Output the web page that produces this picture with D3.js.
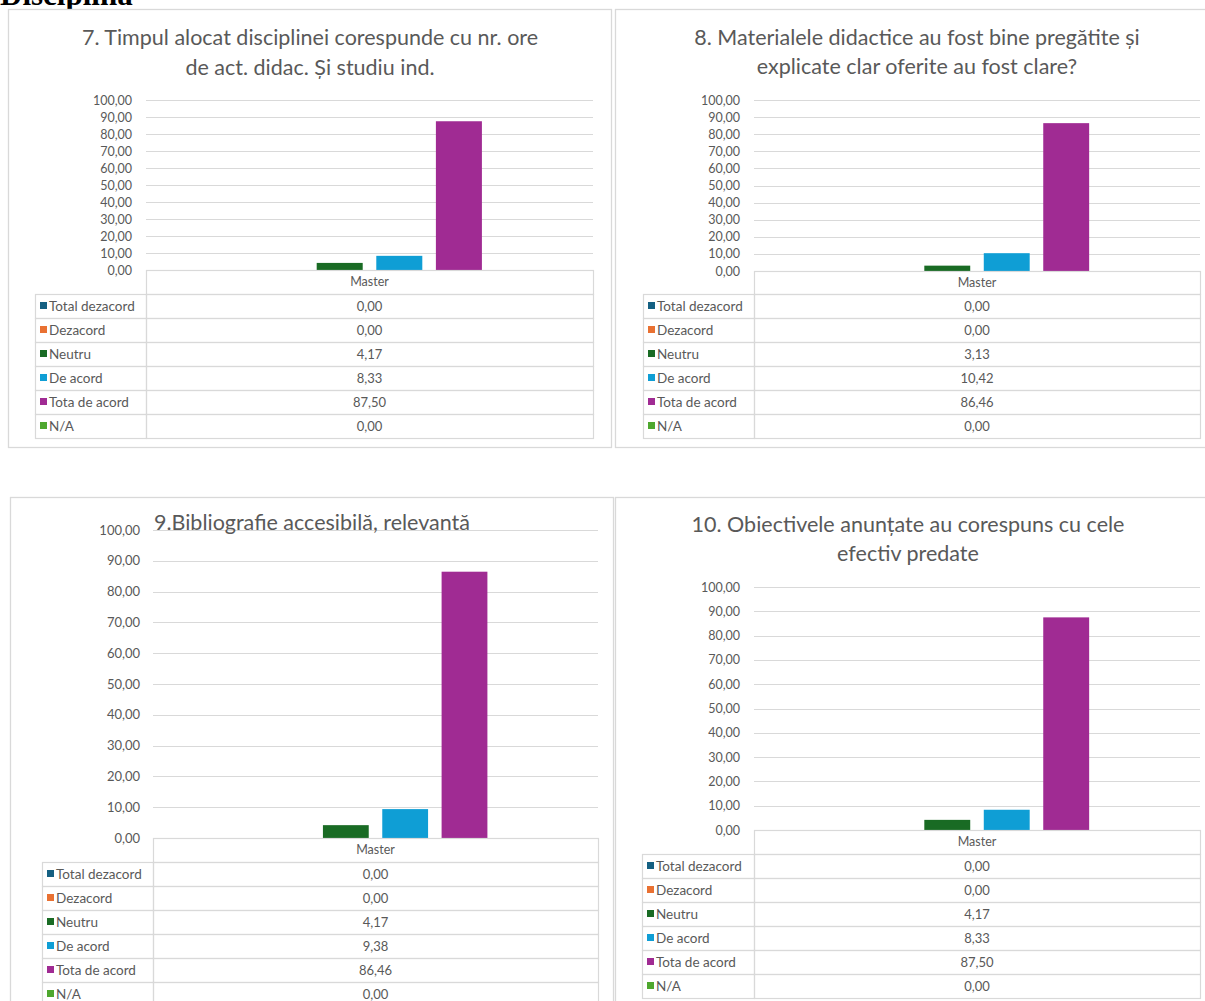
<!DOCTYPE html>
<html>
<head>
<meta charset="utf-8">
<script src="https://cdn.jsdelivr.net/npm/d3@7"></script>
<style>
  body { margin: 0; background: #fff; }
  svg { display: block; }
  text { font-family: Lato, "Open Sans", sans-serif; fill: #595959; }
</style>
</head>
<body>
<svg id="chart" width="1205" height="1001"></svg>
<script>
// ---------- DATA ----------
const pageHeading = "Disciplina";
const seriesNames = ["Total dezacord", "Dezacord", "Neutru", "De acord", "Tota de acord", "N/A"];
const seriesColors = ["#156082", "#E97132", "#196B24", "#0F9ED5", "#A02B93", "#4EA72E"];
const categories = ["Master"];
const yTickValues = [0, 10, 20, 30, 40, 50, 60, 70, 80, 90, 100];

const titleQ7 = ["7. Timpul alocat disciplinei corespunde cu nr. ore", "de act. didac. Și studiu ind."];
const titleQ8 = ["8. Materialele didactice au fost bine pregătite și", "explicate clar oferite au fost clare?"];
const titleQ9 = ["9.Bibliografie accesibilă, relevantă"];
const titleQ10 = ["10. Obiectivele anunțate au corespuns cu cele", "efectiv predate"];

const valuesQ7 = [0.00, 0.00, 4.17, 8.33, 87.50, 0.00];
const valuesQ8 = [0.00, 0.00, 3.13, 10.42, 86.46, 0.00];
const valuesQ9 = [0.00, 0.00, 4.17, 9.38, 86.46, 0.00];
const valuesQ10 = [0.00, 0.00, 4.17, 8.33, 87.50, 0.00];

// ---------- LAYOUT ----------
const panels = [
  { title: titleQ7, values: valuesQ7,
    frame: [8, 9, 603, 438], plot: [146, 593, 100, 270], legendX: 35, tickX: 132, tickSize: 12.5,
    titleX: 310, titleY: [37, 67], headerH: 24, rowH: 24 },
  { title: titleQ8, values: valuesQ8,
    frame: [615, 9, 600, 438], plot: [754, 1200, 100, 271], legendX: 643, tickX: 740, tickSize: 12.5,
    titleX: 917, titleY: [37, 66], headerH: 23, rowH: 24 },
  { title: titleQ9, values: valuesQ9,
    frame: [10, 497, 603, 520], plot: [153, 598, 530, 838], legendX: 42, tickX: 140, tickSize: 13,
    titleX: 312, titleY: [522], headerH: 24, rowH: 24 },
  { title: titleQ10, values: valuesQ10,
    frame: [615, 497, 600, 520], plot: [754, 1200, 587, 830], legendX: 642, tickX: 740, tickSize: 12.5,
    titleX: 908, titleY: [524, 553], headerH: 24, rowH: 24 }
];

const locale = d3.formatLocale({ decimal: ",", thousands: ".", grouping: [3], currency: ["", ""] });
const fmt = locale.format(".2f");
const gridColor = "#d9d9d9";

const svg = d3.select("#chart");

// page heading (cut at top edge, as in the source page)
svg.append("text")
  .attr("x", 0).attr("y", 5)
  .style("font-family", "'Liberation Serif', 'DejaVu Serif', serif")
  .style("font-weight", "bold").style("font-size", "31px").style("fill", "#000")
  .text(pageHeading);

panels.forEach(p => {
  const g = svg.append("g");
  const [fx, fy, fw, fh] = p.frame;
  const [px0, px1, py0, py1] = p.plot;

  g.append("rect")
    .attr("x", fx + 0.5).attr("y", fy + 0.5).attr("width", fw).attr("height", fh)
    .attr("fill", "#fff").attr("stroke", gridColor).attr("stroke-width", 1.3);

  const y = d3.scaleLinear().domain([0, 100]).range([py1, py0]);
  const x0 = d3.scaleBand().domain(categories).range([px0, px1]);
  const x1 = d3.scaleBand().domain(seriesNames).range([0, x0.bandwidth()])
    .paddingInner(0.228).paddingOuter(0.864);

  // tick labels via axis
  const axis = d3.axisLeft(y).tickValues(yTickValues).tickFormat(fmt).tickSize(0).tickPadding(0);
  const ag = g.append("g").attr("transform", `translate(${p.tickX},0)`).call(axis);
  ag.select(".domain").remove();
  ag.selectAll("text").attr("fill", "#595959").style("font-size", p.tickSize + "px")
    .style("font-family", "Lato, 'Open Sans', sans-serif");

  // gridlines
  g.append("g").selectAll("line").data(yTickValues.filter(v => v > 0)).join("line")
    .attr("x1", px0).attr("x2", px1)
    .attr("y1", d => Math.round(y(d)) + 0.5).attr("y2", d => Math.round(y(d)) + 0.5)
    .attr("stroke", gridColor).attr("stroke-width", 1.2);

  // title
  g.append("g").selectAll("text").data(p.title).join("text")
    .attr("x", p.titleX).attr("y", (d, i) => p.titleY[i])
    .attr("dy", "0.35em").attr("text-anchor", "middle")
    .style("font-size", "21.5px").text(d => d);

  // bars
  categories.forEach(cat => {
    g.append("g").selectAll("rect").data(seriesNames).join("rect")
      .attr("x", s => x0(cat) + x1(s))
      .attr("width", x1.bandwidth())
      .attr("y", (s, i) => y(p.values[i]))
      .attr("height", (s, i) => y(0) - y(p.values[i]))
      .attr("fill", (s, i) => seriesColors[i]);
  });

  // data table
  const tbl = g.append("g");
  const rowTop = py1 + p.headerH;
  tbl.append("rect").attr("x", px0 + 0.5).attr("y", py1 + 0.5)
    .attr("width", px1 - px0).attr("height", p.headerH)
    .attr("fill", "none").attr("stroke", gridColor).attr("stroke-width", 1.2);
  categories.forEach(cat => {
    tbl.append("text").attr("x", x0(cat) + x0.bandwidth() / 2).attr("y", py1 + p.headerH / 2)
      .attr("dy", "0.35em").attr("text-anchor", "middle").style("font-size", "12.5px").text(cat);
  });
  seriesNames.forEach((s, i) => {
    const ry = rowTop + i * p.rowH;
    tbl.append("rect").attr("x", p.legendX + 0.5).attr("y", ry + 0.5)
      .attr("width", px0 - p.legendX).attr("height", p.rowH)
      .attr("fill", "none").attr("stroke", gridColor).attr("stroke-width", 1.2);
    tbl.append("rect").attr("x", px0 + 0.5).attr("y", ry + 0.5)
      .attr("width", px1 - px0).attr("height", p.rowH)
      .attr("fill", "none").attr("stroke", gridColor).attr("stroke-width", 1.2);
    tbl.append("rect").attr("x", p.legendX + 5).attr("y", ry + p.rowH / 2 - 4)
      .attr("width", 7).attr("height", 7).attr("fill", seriesColors[i]);
    tbl.append("text").attr("x", p.legendX + 14).attr("y", ry + p.rowH / 2)
      .attr("dy", "0.35em").style("font-size", "13.5px").text(s);
    categories.forEach(cat => {
      tbl.append("text").attr("x", x0(cat) + x0.bandwidth() / 2).attr("y", ry + p.rowH / 2)
        .attr("dy", "0.35em").attr("text-anchor", "middle").style("font-size", "13px")
        .text(fmt(p.values[i]));
    });
  });
});
</script>
</body>
</html>
